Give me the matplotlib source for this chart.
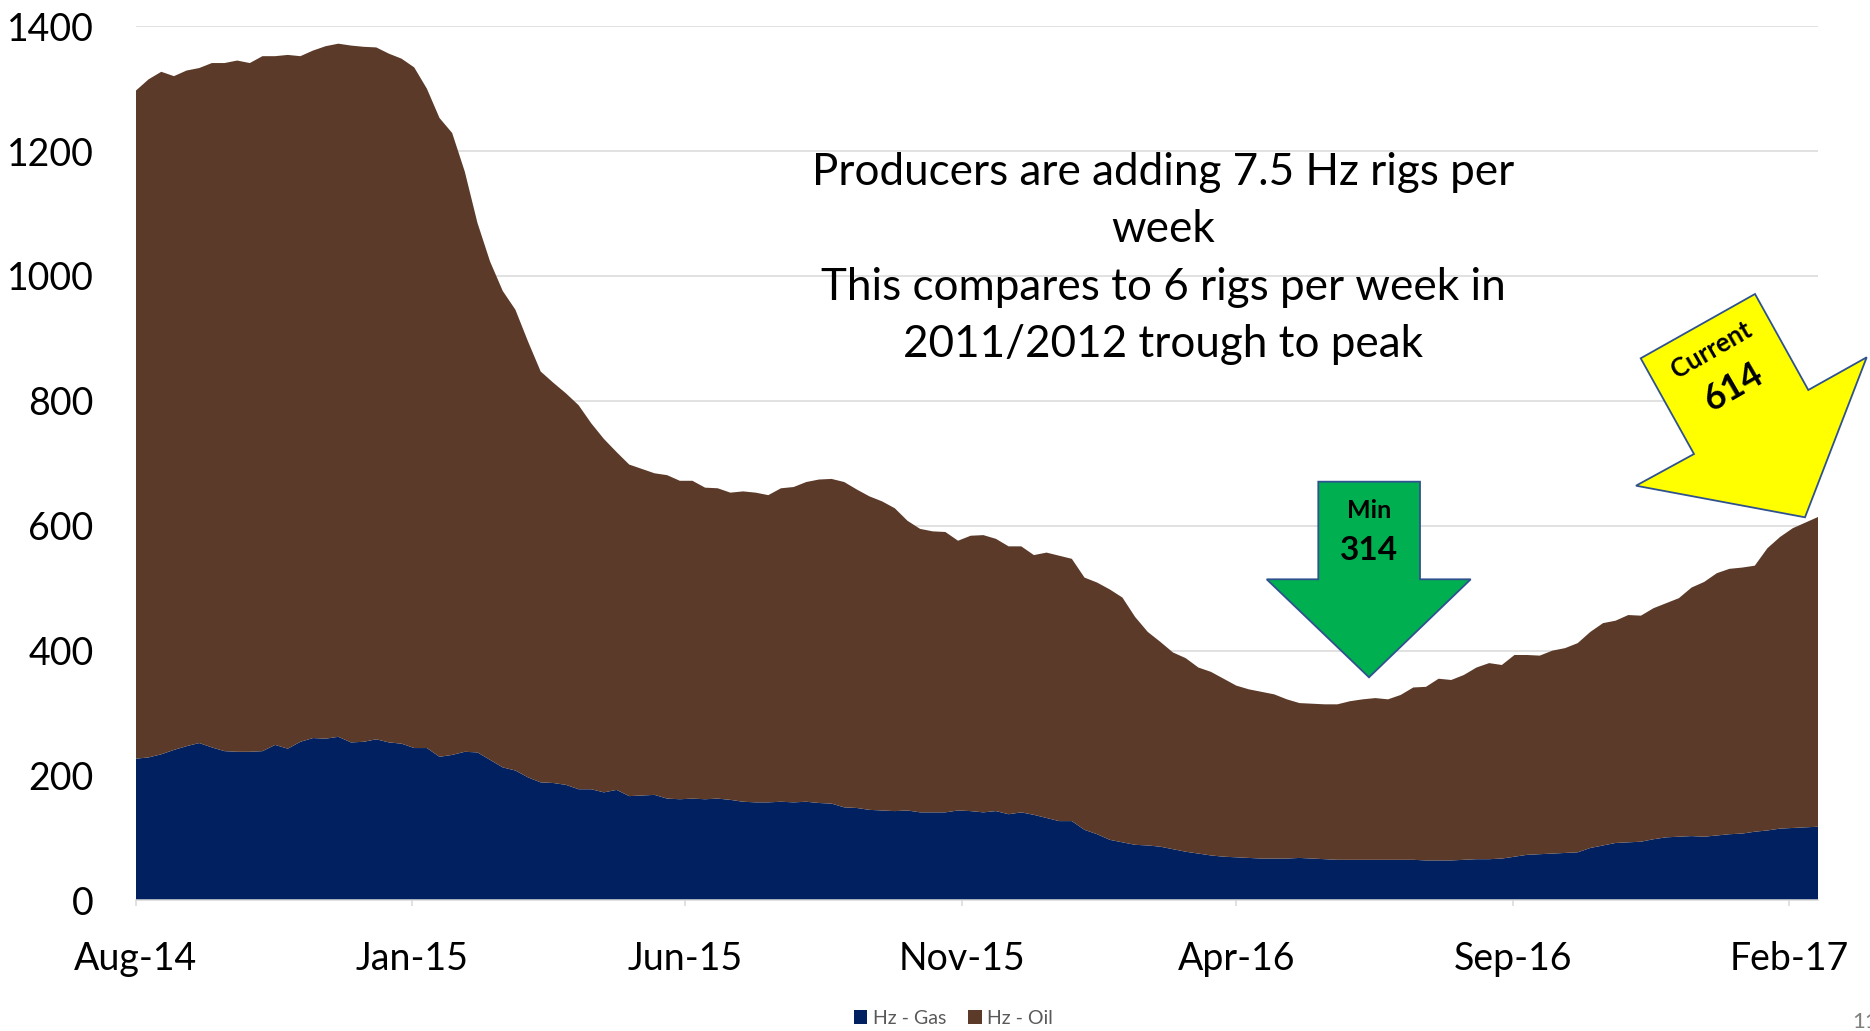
import numpy as np
import pandas as pd
import matplotlib
matplotlib.use("Agg")
import matplotlib.pyplot as plt
from matplotlib.patches import Polygon
import matplotlib.dates as mdates

# weekly horizontal rig counts (Aug-14 .. Feb-17)
weeks = pd.date_range("2014-08-01", periods=134, freq="7D")

hz_total = [1297, 1315, 1327, 1320, 1329, 1333, 1341, 1341, 1345, 1341,
            1352, 1352, 1354, 1352, 1361, 1368, 1372, 1369, 1367, 1366,
            1356, 1348, 1334, 1300, 1253, 1229, 1167, 1085, 1023, 976,
            946, 895, 847, 829, 812, 793, 764, 739, 718, 698,
            691, 684, 681, 672, 672, 661, 660, 653, 655, 653,
            649, 660, 662, 670, 674, 675, 670, 658, 647, 639,
            628, 608, 595, 591, 590, 576, 584, 585, 579, 567,
            567, 553, 557, 552, 547, 517, 509, 498, 485, 454,
            430, 414, 397, 388, 373, 366, 355, 344, 338, 334,
            330, 322, 316, 315, 314, 314, 319, 322, 324, 322,
            329, 341, 342, 355, 353, 361, 373, 380, 377, 393,
            393, 392, 400, 404, 412, 430, 444, 448, 457, 456,
            468, 476, 484, 501, 510, 524, 531, 533, 536, 564,
            582, 596, 605, 614]

hz_gas = [227, 229, 234, 241, 247, 252, 245, 239, 238, 238,
          239, 249, 243, 254, 260, 259, 262, 253, 254, 258,
          253, 251, 244, 244, 230, 233, 238, 237, 225, 213,
          208, 197, 189, 188, 185, 178, 178, 173, 177, 167,
          168, 169, 163, 162, 163, 162, 163, 161, 158, 157,
          157, 158, 157, 158, 156, 155, 149, 148, 145, 144,
          143, 144, 141, 141, 141, 144, 143, 141, 143, 138,
          141, 137, 132, 127, 127, 113, 106, 97, 93, 89,
          88, 86, 82, 78, 75, 72, 70, 69, 68, 67,
          67, 67, 68, 67, 66, 65, 65, 65, 65, 65,
          65, 65, 64, 64, 64, 65, 66, 66, 67, 70,
          73, 74, 75, 76, 77, 84, 88, 92, 93, 94,
          98, 101, 102, 103, 102, 104, 106, 107, 110, 112,
          115, 116, 117, 118]

hz_oil = np.array(hz_total) - np.array(hz_gas)

series_names = ["Hz - Gas", "Hz - Oil"]
tick_dates = pd.to_datetime(["2014-08-01", "2015-01-01", "2015-06-01", "2015-11-01",
                             "2016-04-01", "2016-09-01", "2017-02-01"])
y_ticks = [0, 200, 400, 600, 800, 1000, 1200, 1400]

note = ("Producers are adding 7.5 Hz rigs per\nweek\n"
        "This compares to 6 rigs per week in\n2011/2012 trough to peak")

plt.rcParams['font.family'] = ['Lato', 'DejaVu Sans']

W, H = 1870, 1031


def px(x, y):
    # pixel position (from top-left) -> figure fraction
    return (x / W, 1 - y / H)


fig = plt.figure(figsize=(W / 100, H / 100), dpi=100)
ax = fig.add_axes([136 / W, 1 - 900.4 / H, (1818 - 136) / W, (900.4 - 26.2) / H])

polys = ax.stackplot(weeks, hz_gas, hz_oil, colors=['#002060', '#5B3A29'],
                     labels=series_names, lw=0)

ax.set_ylim(0, 1400)
ax.set_xlim(weeks[0], weeks[-1])
ax.set_yticks(y_ticks)
ax.set_xticks(tick_dates)
ax.xaxis.set_major_formatter(mdates.DateFormatter('%b-%y'))
ax.set_axisbelow(True)
ax.yaxis.grid(True, color='#D9D9D9', lw=1.1)

for s in ['top', 'right', 'left']:
    ax.spines[s].set_visible(False)
ax.spines['bottom'].set_color('#D9D9D9')
ax.spines['bottom'].set_linewidth(1.1)

ax.tick_params(axis='y', length=0, pad=30.5, labelsize=27, labelcolor='black')
ax.tick_params(axis='x', length=4, width=1.1, color='#D9D9D9', pad=25.5,
               labelsize=27, labelcolor='black')

fig.text(*px(1163, 258.5), note, ha='center', va='center', fontsize=31.7,
         linespacing=1.5, color='black')

# callout arrows
green = [px(1318.3, 481.7), px(1420, 481.7), px(1420, 579.3), px(1470.7, 579.3),
         px(1369, 677.3), px(1266.7, 579.3), px(1318.3, 579.3)]
fig.patches.append(Polygon(green, closed=True, transform=fig.transFigure,
                           facecolor='#00B050', edgecolor='#2F528F', lw=1.3))
yellow = [px(1755, 294), px(1808.3, 390), px(1866.7, 357.3), px(1805, 517.3),
          px(1636, 485.7), px(1694, 454), px(1640.7, 358.3)]
fig.patches.append(Polygon(yellow, closed=True, transform=fig.transFigure,
                           facecolor='#FFFF00', edgecolor='#2F528F', lw=1.3))

fig.text(*px(1369, 510), "Min", ha='center', va='center', fontsize=18,
         fontweight='bold')
fig.text(*px(1369, 550), str(min(hz_total)), ha='center', va='center',
         fontsize=24, fontweight='bold')
fig.text(*px(1711.7, 350), "Current", ha='center', va='center', fontsize=18.5,
         fontweight='bold', rotation=30, rotation_mode='anchor')
fig.text(*px(1733.3, 386.7), str(hz_total[-1]), ha='center', va='center',
         fontsize=26, fontweight='bold', rotation=30, rotation_mode='anchor')

fig.legend(handles=polys, labels=series_names, loc='center',
           bbox_to_anchor=px(953.5, 1018), ncol=2, frameon=False, fontsize=14,
           labelcolor='#595959', handlelength=0.7, handleheight=0.7,
           handletextpad=0.3, columnspacing=1.1)

# slide number, cut by the right edge as in the source slide
fig.text(*px(1852, 1022), "11", ha='left', va='center', fontsize=16,
         color='#7F7F7F')

fig.savefig("out.png", dpi=100)
